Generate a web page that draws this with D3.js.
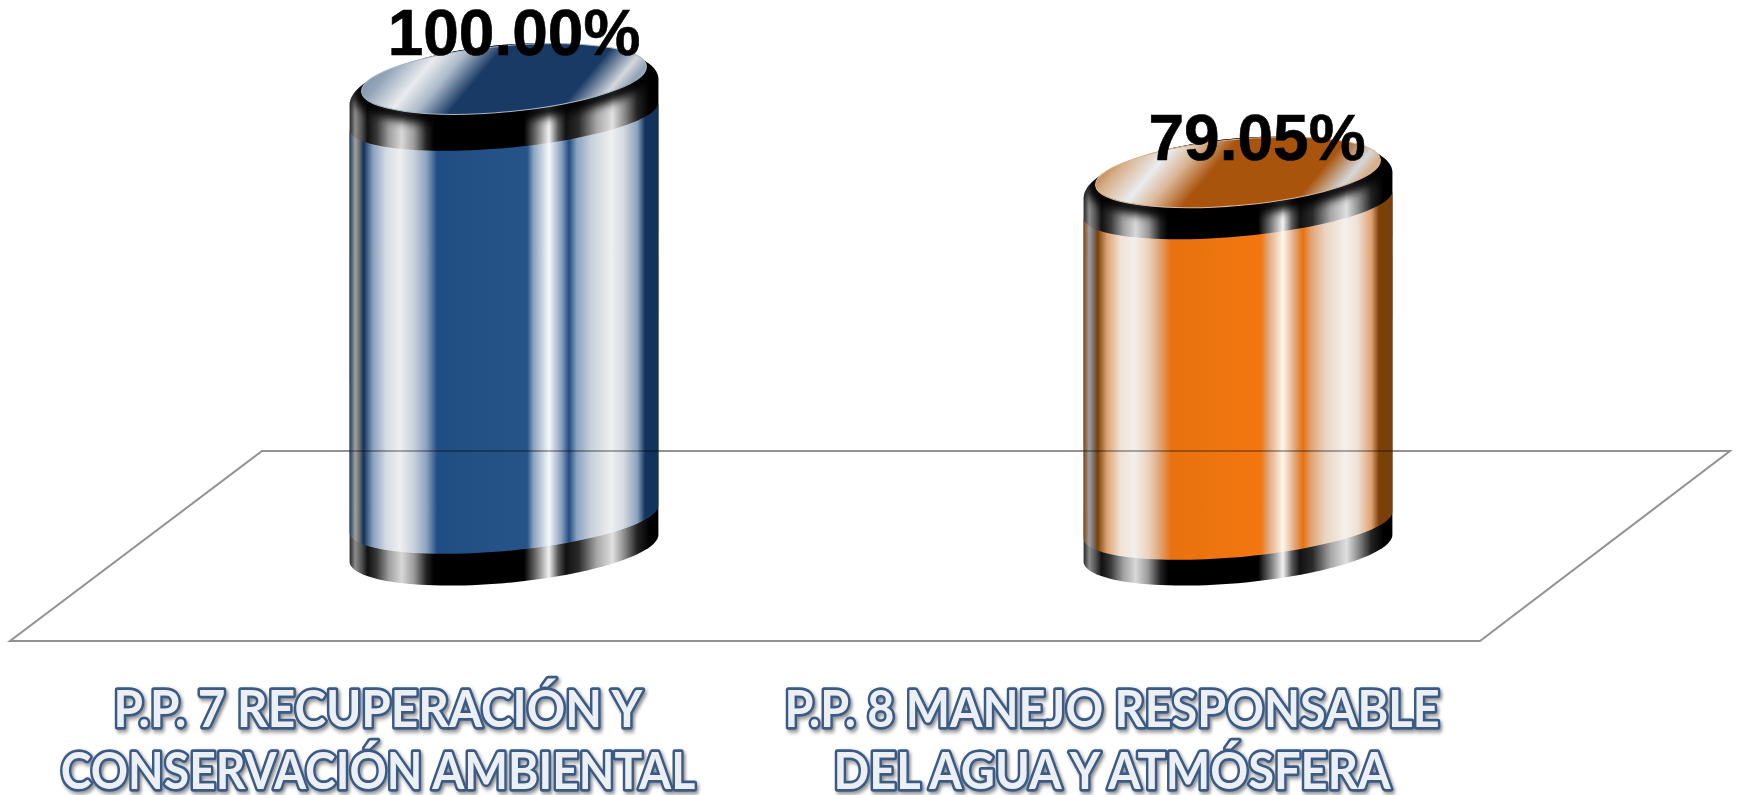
<!DOCTYPE html>
<html><head><meta charset="utf-8">
<script src="https://cdnjs.cloudflare.com/ajax/libs/d3/7.8.5/d3.min.js"></script>
<style>html,body{margin:0;padding:0;background:#fff;overflow:hidden}svg{display:block}</style>
</head><body><svg id="c" width="1737" height="795"></svg>
<script>
const categories = ["P.P. 7 RECUPERACIÓN Y CONSERVACIÓN AMBIENTAL", "P.P. 8 MANEJO RESPONSABLE DEL AGUA Y ATMÓSFERA"];
const categoryLines = [["P.P. 7 RECUPERACIÓN Y", "CONSERVACIÓN AMBIENTAL"], ["P.P. 8 MANEJO RESPONSABLE", "DEL AGUA Y ATMÓSFERA"]];
const values = [100.00, 79.05];
const valueLabels = ["100.00%", "79.05%"];
const palette = [
  {mid:"#204d82", midB:"#265489", edge:"#13335c", face:"#1a3a66", tint:"#7e93ad", lite:"#93a5b9", glow:"#eef0f1", soft:"#8ba2bf", rim:"#a9b8c8", shade:"#c8d0da", pale:"#d6dbe1", hot:"#f6f8fb"},
  {mid:"#e8720f", midB:"#f37710", edge:"#7a4008", face:"#a9540c", tint:"#b5834f", lite:"#d8b08a", glow:"#f4f0ec", soft:"#e0a273", rim:"#d9b595", shade:"#ead3bf", pale:"#efe2d6", hot:"#fff6ec"}
];
const lineSqueeze = [[.917,.89],[.9,.905]];
const bandTops = [37,32], bandBases = [29,23];

const W = 1737, H = 795;
const svg = d3.select("#c").attr("viewBox", [0,0,W,H]);
const defs = svg.append("defs");

const x = d3.scalePoint().domain(categories).range([504, 1238]);
const xValueLabel = d3.scalePoint().domain(categories).range([514, 1257]);
const xAxisLabel = d3.scalePoint().domain(categories).range([378, 1112]);
const y = d3.scaleLinear().domain([0,100]).range([525, 79]);
const yValueLabel = d3.scaleLinear().domain([0,100]).range([556, 55]);

const halfW = 155, rxO = 155, ryO = 35, ryB = 32, rxI = 143, ryI = 33, theta = -5.2*Math.PI/180;
const baseY = y(0) + 23;
const shoulderDrop = 13, shoulderRy = 47;

function pt(cx, cy, rx, ry, t){
  return [cx + rx*Math.cos(t)*Math.cos(theta) - ry*Math.sin(t)*Math.sin(theta),
          cy + rx*Math.cos(t)*Math.sin(theta) + ry*Math.sin(t)*Math.cos(theta)];
}
function arc(cx, cy, rx, ry, lower){
  const tR = Math.atan2(-ry*Math.sin(theta), rx*Math.cos(theta));
  return d3.range(0, 61).map(i => {
    const f = i/60;
    return pt(cx, cy, rx, ry, lower ? tR + Math.PI*f : tR + Math.PI + Math.PI*f);
  });
}
const line = d3.line();
function silhouette(cx, top, bottom){
  return line(arc(cx, top+shoulderDrop, rxO, shoulderRy, false).concat(arc(cx, bottom, rxO, ryO, true))) + "Z";
}
function hGrad(id, cx, stops){
  const g = defs.append("linearGradient").attr("id", id).attr("gradientUnits","userSpaceOnUse")
    .attr("x1", cx-halfW).attr("x2", cx+halfW).attr("y1",0).attr("y2",0);
  stops.forEach(s => g.append("stop").attr("offset", s[0]).attr("stop-color", s[1]));
}
const bandStops = [[0,"#1c1c1c"],[.02,"#8d8d8d"],[.04,"#555"],[.06,"#111"],[.09,"#3a3a3a"],[.13,"#a0a0a0"],[.17,"#d8d8d8"],[.21,"#9a9a9a"],[.25,"#222"],[.275,"#000"],[.565,"#000"],[.6,"#666"],[.645,"#f2f2f2"],[.675,"#555"],[.7,"#111"],[.74,"#2a2a2a"],[.8,"#a8a8a8"],[.85,"#e0e0e0"],[.89,"#888"],[.93,"#222"],[.97,"#000"],[1,"#000"]];

defs.append("filter").attr("id","soft").attr("x","-10%").attr("y","-30%").attr("width","120%").attr("height","160%")
  .append("feGaussianBlur").attr("stdDeviation",5);

const floor = [[262,451],[1730,451],[1480,641],[10,641]];
svg.append("path").attr("d", line(floor)+"Z").attr("fill","none").attr("stroke","#929292").attr("stroke-width",2);

categories.forEach((c,i) => {
  const cx = x(c), top = y(values[i]), p = palette[i];
  hGrad("body"+i, cx, [[0,p.edge],[.02,"#a0a0a0"],[.032,"#777"],[.047,p.edge],[.078,p.soft],[.12,p.pale],[.165,p.glow],[.21,p.shade],[.25,p.soft],[.285,p.mid],[.575,p.midB],[.595,p.soft],[.645,p.hot],[.685,p.soft],[.71,p.mid],[.735,p.soft],[.78,p.shade],[.845,p.glow],[.885,p.pale],[.93,p.soft],[.955,p.edge],[1,p.edge]]);
  hGrad("band"+i, cx, bandStops);

  const fg = defs.append("linearGradient").attr("id","face"+i).attr("gradientUnits","userSpaceOnUse")
    .attr("x1",cx-144).attr("y1",top-9).attr("x2",cx+3).attr("y2",top+138);
  [[0,p.tint],[.07,p.lite],[.2,"#eaecee"],[.3,p.rim],[.42,p.face],[.82,p.face],[.945,"#d4d8dc"],[1,p.lite]]
    .forEach(s => fg.append("stop").attr("offset",s[0]).attr("stop-color",s[1]));

  const g = svg.append("g");
  const sil = silhouette(cx, top, baseY);
  defs.append("clipPath").attr("id","sil"+i).append("path").attr("d", sil);
  g.append("path").attr("d", sil).attr("fill","url(#band"+i+")");
  g.append("g").attr("clip-path",`url(#sil${i})`)
    .append("ellipse").attr("cx",cx).attr("cy",top).attr("rx",rxI+4).attr("ry",ryI+3)
    .attr("transform",`rotate(${theta*180/Math.PI} ${cx} ${top})`)
    .attr("fill","none").attr("stroke","#000").attr("stroke-width",14).attr("filter","url(#soft)");
  const bodyPts = arc(cx, top+bandTops[i], rxO, ryB, true).reverse()
      .concat(arc(cx, baseY-bandBases[i], rxO, ryB, true));
  g.append("path").attr("d", line(bodyPts)+"Z").attr("fill","url(#body"+i+")");
  g.append("ellipse").attr("cx",cx).attr("cy",top).attr("rx",rxI).attr("ry",ryI)
    .attr("transform",`rotate(${theta*180/Math.PI} ${cx} ${top})`)
    .attr("fill","url(#face"+i+")").attr("stroke",p.rim).attr("stroke-width",1);
  const cid = "clip"+i;
  defs.append("clipPath").attr("id",cid).append("path").attr("d", line(bodyPts)+"Z");
  g.append("line").attr("x1",cx-halfW).attr("x2",cx+halfW).attr("y1",floor[0][1]).attr("y2",floor[0][1])
    .attr("stroke","#929292").attr("stroke-width",1.5).attr("clip-path",`url(#${cid})`)
    .style("mix-blend-mode","multiply");
});

svg.selectAll("text.v").data(categories).join("text").attr("class","v")
  .attr("x", d => xValueLabel(d)).attr("y",(d,i)=>yValueLabel(values[i]))
  .attr("text-anchor","middle").attr("font-family","'Liberation Sans',Arial,sans-serif")
  .attr("font-weight",700).attr("font-size",64).attr("fill","#000").attr("stroke","#000").attr("stroke-width",.6)
  .text((d,i)=>valueLabels[i]);

defs.append("filter").attr("id","sh").attr("x","-5%").attr("y","-20%").attr("width","110%").attr("height","140%")
  .append("feDropShadow").attr("dx",2).attr("dy",2.5).attr("stdDeviation",2).attr("flood-color","#000").attr("flood-opacity",.45);
const lineYs = [727, 789];
categories.forEach((c,i) => {
  categoryLines[i].forEach((t,j) => {
    svg.append("text").attr("transform",`translate(${xAxisLabel(c)},${lineYs[j]}) scale(${lineSqueeze[i][j]},1)`)
      .attr("text-anchor","middle")
      .attr("font-family","Lato,'Open Sans',sans-serif").attr("font-weight",700).attr("font-size",52)
      .attr("fill","#eceff3").attr("stroke","#3a5a84").attr("stroke-width",5.5).attr("stroke-linejoin","round")
      .attr("paint-order","stroke").attr("filter","url(#sh)").text(t);
  });
});
</script></body></html>
